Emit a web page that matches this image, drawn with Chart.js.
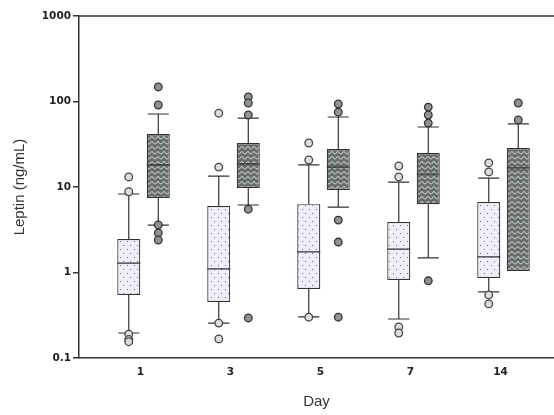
<!DOCTYPE html>
<html>
<head>
<meta charset="utf-8">
<script src="https://cdn.jsdelivr.net/npm/chart.js@4"></script>
<style>
  body { margin: 0; background: #fff; }
</style>
</head>
<body>
<canvas id="myChart" width="554" height="415"></canvas>
<script>
const days = ['1', '3', '5', '7', '14']
const yTicks = [0.1, 1, 10, 100, 1000]

// light dotted boxes
const lightLow = [0.196, 0.256, 0.302, 0.286, 0.592]
const lightQ1 = [0.546, 0.452, 0.641, 0.816, 0.863]
const lightMed = [1.29, 1.10, 1.74, 1.88, 1.52]
const lightQ3 = [2.46, 6.0, 6.3, 3.9, 6.68]
const lightHigh = [8.28, 13.4, 18.1, 11.4, 12.7]
const lightOut = [
    [13.1, 8.8, 0.19, 0.165, 0.155],
    [73, 17.1, 0.256, 0.167],
    [32.7, 20.7, 0.30],
    [17.6, 13.1, 0.231, 0.196],
    [19.1, 15, 0.546, 0.429]
]

// dark hatched boxes
const darkLow = [3.59, 6.16, 5.83, 1.48, 1.04]
const darkQ1 = [7.43, 9.73, 9.2, 6.3, 1.04]
const darkMed = [18.1, 18.6, 17.1, 14.2, 16.7]
const darkQ3 = [41.7, 32.7, 27.8, 25, 28.6]
const darkHigh = [71.4, 64, 65.9, 50.3, 54.6]
const darkOut = [
    [148, 91, 3.6, 2.9, 2.4],
    [113, 96, 69.5, 5.5, 0.294],
    [93.5, 75, 4.1, 2.27, 0.30],
    [86, 69.5, 56, 0.80],
    [96, 60.8]
]

const CAT_PCT = 0.656
const BAR_PCT = 0.78
const shift = CAT_PCT / 4

function makeDots() {
    const c = document.createElement('canvas')
    c.width = 7
    c.height = 8
    const g = c.getContext('2d')
    g.fillStyle = '#eeeef8'
    g.fillRect(0, 0, 7, 8)
    g.fillStyle = '#6a6a72'
    g.fillRect(1, 1, 1, 1)
    g.fillRect(4, 5, 1, 1)
    return g.createPattern(c, 'repeat')
}

function makeWaves() {
    const c = document.createElement('canvas')
    c.width = 6
    c.height = 5
    const g = c.getContext('2d')
    g.fillStyle = '#666c6c'
    g.fillRect(0, 0, 6, 5)
    g.strokeStyle = '#b8c0c0'
    g.lineWidth = 1.2
    g.beginPath()
    g.moveTo(0, 3.5)
    g.quadraticCurveTo(1.5, 0.5, 3, 2.5)
    g.quadraticCurveTo(4.5, 4.5, 6, 3.5)
    g.stroke()
    return g.createPattern(c, 'repeat')
}

const boxStats = [
    { low: lightLow, q1: lightQ1, med: lightMed, q3: lightQ3, high: lightHigh },
    { low: darkLow, q1: darkQ1, med: darkMed, q3: darkQ3, high: darkHigh }
]

const whiskers = {
    id: 'whiskers',
    afterDatasetDraw(chart, args) {
        const stats = boxStats[args.index]
        if (!stats) return
        const ctx = chart.ctx
        const y = chart.scales.y
        ctx.save()
        ctx.strokeStyle = '#333'
        ctx.lineWidth = 1.2
        args.meta.data.forEach((bar, i) => {
            const x = bar.x
            const half = bar.width / 2
            const cap = half * 0.92
            const pMed = y.getPixelForValue(stats.med[i])
            const pQ1 = y.getPixelForValue(stats.q1[i])
            const pQ3 = y.getPixelForValue(stats.q3[i])
            const pLow = y.getPixelForValue(stats.low[i])
            const pHigh = y.getPixelForValue(stats.high[i])
            ctx.beginPath()
            ctx.moveTo(x - half, pMed)
            ctx.lineTo(x + half, pMed)
            if (stats.high[i] > stats.q3[i]) {
                ctx.moveTo(x, pQ3)
                ctx.lineTo(x, pHigh)
                ctx.moveTo(x - cap, pHigh)
                ctx.lineTo(x + cap, pHigh)
            }
            if (stats.low[i] < stats.q1[i]) {
                ctx.moveTo(x, pQ1)
                ctx.lineTo(x, pLow)
                ctx.moveTo(x - cap, pLow)
                ctx.lineTo(x + cap, pLow)
            }
            ctx.stroke()
        })
        ctx.restore()
    },
    afterDraw(chart) {
        const a = chart.chartArea
        const ctx = chart.ctx
        ctx.save()
        ctx.strokeStyle = '#333'
        ctx.lineWidth = 1.5
        ctx.beginPath()
        ctx.moveTo(a.left, a.top)
        ctx.lineTo(chart.width, a.top)
        ctx.stroke()
        ctx.restore()
    }
}

Chart.defaults.font.family = "'Liberation Sans', Arial, sans-serif"
const tickFont = { family: "'DejaVu Sans', sans-serif", weight: 'bold', size: 10.5 }

const ctx = document.getElementById('myChart').getContext('2d')
const myChart = new Chart(ctx, {
    type: 'bar',
    data: {
        datasets: [{
            label: 'light',
            data: days.map((d, i) => ({ x: i, y: [lightQ1[i], lightQ3[i]] })),
            backgroundColor: makeDots(),
            borderColor: '#333',
            borderWidth: 1.2,
            borderSkipped: false,
            categoryPercentage: CAT_PCT,
            barPercentage: BAR_PCT,
            order: 1
        }, {
            label: 'dark',
            data: days.map((d, i) => ({ x: i, y: [darkQ1[i], darkQ3[i]] })),
            backgroundColor: makeWaves(),
            borderColor: '#333',
            borderWidth: 1.2,
            borderSkipped: false,
            categoryPercentage: CAT_PCT,
            barPercentage: BAR_PCT,
            order: 1
        }, {
            type: 'scatter',
            label: 'light outliers',
            data: lightOut.flatMap((vals, i) => vals.map(v => ({ x: i - shift, y: v }))),
            pointRadius: 3.8,
            pointBackgroundColor: '#dcdce4',
            pointBorderColor: '#444',
            pointBorderWidth: 1.3,
            order: 0
        }, {
            type: 'scatter',
            label: 'dark outliers',
            data: darkOut.flatMap((vals, i) => vals.map(v => ({ x: i + shift, y: v }))),
            pointRadius: 3.8,
            pointBackgroundColor: '#8c9494',
            pointBorderColor: '#333',
            pointBorderWidth: 1.3,
            order: 0
        }]
    },
    options: {
        responsive: false,
        animation: false,
        layout: { autoPadding: false, padding: { top: 16, right: 0, bottom: 0, left: 0 } },
        plugins: { legend: { display: false }, tooltip: { enabled: false } },
        scales: {
            x: {
                type: 'linear',
                bounds: 'data',
                offset: false,
                min: -0.717,
                max: 4.561,
                afterBuildTicks: s => { s.ticks = days.map((d, i) => ({ value: i })) },
                afterFit: s => { s.height = 57 },
                grid: { display: false, drawTicks: false },
                border: { display: true, color: '#333', width: 1.5 },
                ticks: {
                    callback: v => days[v],
                    font: tickFont,
                    color: '#222',
                    padding: 8,
                    labelOffset: -3,
                    maxRotation: 0,
                    autoSkip: false
                },
                title: { display: true, text: 'Day', font: { size: 15 }, color: '#333', padding: { top: 0, bottom: 4 } }
            },
            y: {
                type: 'logarithmic',
                min: 0.1,
                max: 1000,
                afterBuildTicks: s => { s.ticks = yTicks.map(v => ({ value: v })) },
                afterFit: s => { s.width = 79 },
                grid: { drawOnChartArea: false, drawTicks: true, tickLength: 6, color: '#333', lineWidth: 1.5 },
                border: { display: true, color: '#333', width: 1.5 },
                ticks: {
                    callback: v => String(v),
                    font: tickFont,
                    color: '#222',
                    padding: 2,
                    autoSkip: false
                },
                title: { display: true, text: 'Leptin (ng/mL)', font: { size: 15 }, color: '#333', padding: { top: 11, bottom: 0 } }
            }
        }
    },
    plugins: [whiskers]
})
</script>
</body>
</html>
